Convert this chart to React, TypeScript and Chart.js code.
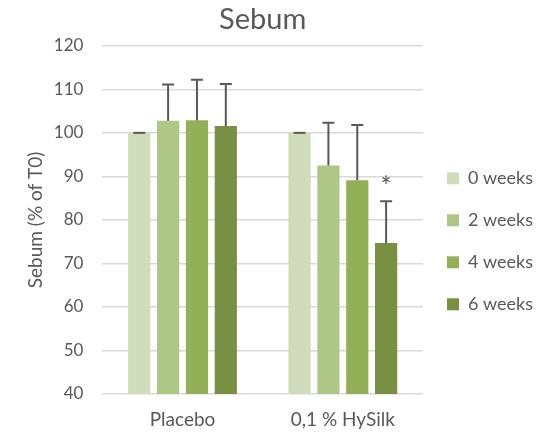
import React, { useEffect, useRef } from "react";
import { Chart, registerables } from "chart.js";

Chart.register(...registerables);

const categories = ["Placebo", "0,1 % HySilk"];
const seriesLabels = ["0 weeks", "2 weeks", "4 weeks", "6 weeks"];
const week0 = [100, 100];
const week2 = [102.8, 92.5];
const week4 = [102.9, 89.1];
const week6 = [101.6, 74.7];
const err0 = [0, 0];
const err2 = [8.3, 9.8];
const err4 = [9.3, 12.7];
const err6 = [9.6, 9.6];
// significance marker: [series index, category index]
const significant: [number, number][] = [[3, 1]];

const seriesValues = [week0, week2, week4, week6];
const seriesErrors = [err0, err2, err4, err6];
const seriesColors = ["#d0ddba", "#aec686", "#94b056", "#799042"];
const textColor = "#595959";
const fontFamily = "Lato, 'Open Sans', sans-serif";

const errorBarPlugin = {
  id: "errorBars",
  afterDatasetsDraw(chart: any) {
    const { ctx } = chart;
    const yScale = chart.scales.y;
    ctx.save();
    ctx.strokeStyle = "#595959";
    ctx.lineWidth = 2;
    chart.data.datasets.forEach((ds: any, di: number) => {
      const meta = chart.getDatasetMeta(di);
      meta.data.forEach((bar: any, i: number) => {
        const top = yScale.getPixelForValue(ds.data[i] + ds.errors[i]);
        const base = yScale.getPixelForValue(ds.data[i]);
        ctx.beginPath();
        ctx.moveTo(bar.x, base);
        ctx.lineTo(bar.x, top);
        ctx.moveTo(bar.x - 6, top);
        ctx.lineTo(bar.x + 6, top);
        ctx.stroke();
      });
    });
    ctx.fillStyle = textColor;
    ctx.font = `26px ${fontFamily}`;
    ctx.textAlign = "center";
    ctx.textBaseline = "middle";
    significant.forEach(([di, i]) => {
      const ds: any = chart.data.datasets[di];
      const bar: any = chart.getDatasetMeta(di).data[i];
      const top = yScale.getPixelForValue(ds.data[i] + ds.errors[i]);
      ctx.fillText("*", bar.x, top - 14);
    });
    ctx.restore();
  },
};

export default function App() {
  const canvasRef = useRef<HTMLCanvasElement>(null);

  useEffect(() => {
    if (!canvasRef.current) return;
    const chart = new Chart(canvasRef.current, {
      type: "bar",
      data: {
        labels: categories,
        datasets: seriesLabels.map((label, k) => ({
          label,
          data: seriesValues[k],
          errors: seriesErrors[k],
          backgroundColor: seriesColors[k],
          barPercentage: 0.77,
          categoryPercentage: 0.72,
        })) as any,
      },
      options: {
        animation: false,
        responsive: true,
        maintainAspectRatio: false,
        layout: { padding: { left: 20, right: 14, top: 2, bottom: 0 } },
        plugins: {
          title: {
            display: true,
            fullSize: false,
            text: "Sebum",
            color: textColor,
            font: { family: fontFamily, size: 29, weight: "normal" },
            padding: { top: 0, bottom: 9 },
          },
          legend: {
            position: "right",
            title: {
              display: true,
              text: " ",
              font: { family: fontFamily, size: 18 },
              padding: { top: 22, bottom: 0 },
            },
            labels: {
              color: textColor,
              font: { family: fontFamily, size: 18 },
              boxWidth: 12,
              boxHeight: 12,
              padding: 24,
            },
          },
          tooltip: { enabled: false },
        },
        scales: {
          x: {
            grid: { display: false },
            border: { display: false },
            ticks: {
              color: textColor,
              font: { family: fontFamily, size: 19, lineHeight: 1.0 },
              padding: 8,
            },
          },
          y: {
            min: 40,
            max: 120,
            ticks: {
              stepSize: 10,
              color: textColor,
              font: { family: fontFamily, size: 17 },
              padding: 19,
            },
            grid: { color: "#d9d9d9", lineWidth: 1.5, drawTicks: false },
            border: { display: false },
            title: {
              display: true,
              text: "Sebum (% of T0)",
              color: textColor,
              font: { family: fontFamily, size: 19 },
              padding: { top: 4, bottom: -12 },
            },
          },
        },
      },
      plugins: [errorBarPlugin],
    });
    return () => chart.destroy();
  }, []);

  return (
    <div style={{ position: "fixed", left: 0, top: 0, width: 557, height: 437, background: "#fff" }}>
      <canvas ref={canvasRef} />
    </div>
  );
}
